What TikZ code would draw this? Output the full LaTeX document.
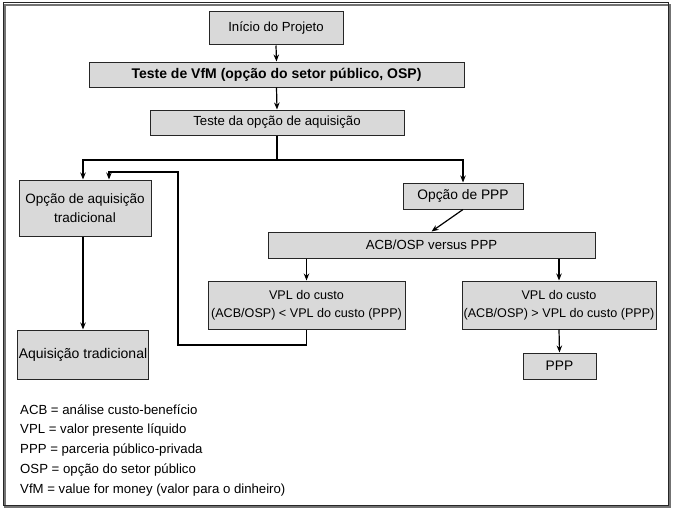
\documentclass[tikz,border=0pt]{standalone}
\usepackage{fontspec}
\setmainfont{Liberation Sans}
\usetikzlibrary{arrows.meta}
\begin{document}
\begin{tikzpicture}[x=1pt,y=-1pt,
  box/.style={draw=black!85,line width=1pt,fill=black!15,inner sep=1pt,align=center,
    font=\fontsize{13.2}{16}\selectfont},
  arr/.style={line width=1.2pt,-{Stealth[length=7pt,width=5.5pt]}},
  ln/.style={line width=1.2pt},
  legend/.style={anchor=west,inner sep=0pt,font=\fontsize{13.2}{15}\selectfont}]
\useasboundingbox (0,0) rectangle (676,511);
% frame
\draw[black!55,line width=1.5pt] (5,5) rectangle (670,507);
\draw[black!85,line width=1pt] (3,3) rectangle (668,505);
% boxes
\node[box,minimum width=134pt,minimum height=33pt] (inicio) at (276,28.5) {Início do Projeto};
\node[box,minimum width=375pt,minimum height=25pt,font=\fontsize{14}{16}\selectfont\bfseries] (vfm) at (276.5,74.5) {Teste de VfM (opção do setor público, OSP)};
\node[box,minimum width=254pt,minimum height=25pt] (teste) at (277,122.5) {Teste da opção de aquisição};
\node[box,minimum width=132pt,minimum height=56pt,font=\fontsize{13.5}{19}\selectfont] (trad) at (85,208) {Opção de aquisição\\tradicional};
\node[box,minimum width=120pt,minimum height=26pt,font=\fontsize{13.8}{16}\selectfont] (oppp) at (463,196) {Opção de PPP};
\node[box,minimum width=327pt,minimum height=26pt] (acb) at (431.5,245) {ACB/OSP versus PPP};
\node[box,minimum width=197pt,minimum height=48pt,font=\fontsize{12.6}{18}\selectfont] (vpll) at (306.5,305) {VPL do custo\\(ACB/OSP) < VPL do custo (PPP)};
\node[box,minimum width=194pt,minimum height=48pt,font=\fontsize{12.6}{18}\selectfont] (vplr) at (559,305) {VPL do custo\\(ACB/OSP) > VPL do custo (PPP)};
\node[box,minimum width=73pt,minimum height=26pt,font=\fontsize{13.8}{16}\selectfont] (ppp) at (559.5,366) {PPP};
\node[box,minimum width=130pt,minimum height=49pt,font=\fontsize{14}{16}\selectfont] (aqtrad) at (83,354.5) {Aquisição tradicional};
% connectors
\draw[arr] (inicio.south) -- (vfm.north);
\draw[arr] (vfm.south) -- (teste.north);
\coordinate (split) at (teste.south |- 0,160);
\draw[ln] (teste.south) -- (split);
\draw[arr] (split) -| (oppp.north);
\draw[arr] (split) -| ([xshift=-2pt]trad.north);
\draw[arr] (oppp.south) -- (acb.north);
\draw[arr] (vpll.north |- acb.south) -- (vpll.north);
\draw[arr] (vplr.north |- acb.south) -- (vplr.north);
\draw[arr] (vplr.south) -- (ppp.north);
\draw[arr] ([xshift=-2pt]trad.south) -- ([xshift=-2pt]trad.south |- aqtrad.north);
\coordinate (l1) at (vpll.south |- 0,345);
\coordinate (l2) at (178,345);
\coordinate (l3) at (178,172);
\coordinate (l4) at (109,172);
\draw[arr] (vpll.south) -- (l1) -- (l2) -- (l3) -- (l4) -- (l4 |- trad.north);
% legend
\node[legend] (g1) at (20,410) {ACB = análise custo-benefício};
\node[legend] (g2) at (20,430) {VPL = valor presente líquido};
\node[legend] (g3) at (20,450) {PPP = parceria público-privada};
\node[legend] (g4) at (20,470) {OSP = opção do setor público};
\node[legend] (g5) at (20,490) {VfM = value for money (valor para o dinheiro)};
\end{tikzpicture}
\end{document}
